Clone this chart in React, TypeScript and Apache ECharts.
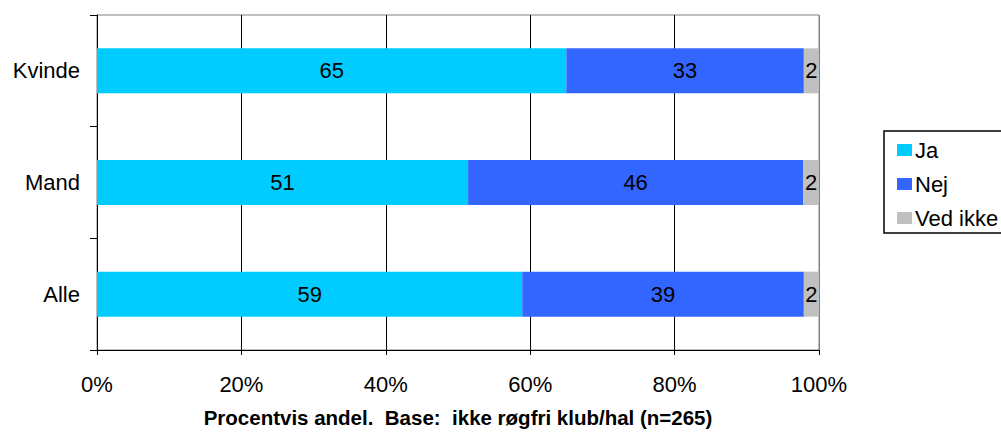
import React, { useEffect, useRef } from "react";
import * as echarts from "echarts";

const categories = ["Alle", "Mand", "Kvinde"];
const jaValues = [58.9, 51.4, 65.0];
const nejValues = [39.0, 46.4, 32.9];
const vedIkkeValues = [2.1, 2.2, 2.1];
const seriesNames = ["Ja", "Nej", "Ved ikke"];
const xTicks = [0, 20, 40, 60, 80, 100];
const axisTitle = "Procentvis andel.  Base:  ikke røgfri klub/hal (n=265)";

const FONT = 'Arial, "Liberation Sans", sans-serif';
const FS = 22;

export default function App() {
  const ref = useRef<HTMLDivElement>(null);
  useEffect(() => {
    if (!ref.current) return;
    const chart = echarts.init(ref.current, null, { renderer: "svg" });
    const label = {
      show: true,
      position: "inside",
      color: "#000",
      fontSize: FS,
      fontFamily: FONT,
      formatter: (p: any) => String(Math.round(p.value)),
    };
    const colors = ["#00CCFF", "#3366FF", "#C0C0C0"];
    const values = [jaValues, nejValues, vedIkkeValues];
    chart.setOption({
      animation: false,
      grid: {
        left: 97,
        right: 182,
        top: 15,
        bottom: 82,
        containLabel: false,
        outerBoundsMode: "none",
        show: true,
        borderColor: "#808080",
        borderWidth: 1,
      },
      legend: {
        orient: "vertical",
        left: 892,
        top: 134,
        itemWidth: 15,
        itemHeight: 12,
        itemGap: 12,
        icon: "rect",
        textStyle: { fontSize: FS, fontFamily: FONT, color: "#000", lineHeight: 22, padding: [0, 0, 0, -2] },
        data: seriesNames,
      },
      graphic: [
        {
          type: "rect",
          shape: { x: 884, y: 131, width: 130, height: 102 },
          style: { fill: "none", stroke: "#000", lineWidth: 1.5 },
          z: -1,
        },
      ],
      xAxis: {
        type: "value",
        min: xTicks[0],
        max: xTicks[xTicks.length - 1],
        interval: 20,
        axisLine: { show: true, lineStyle: { color: "#000", width: 1 } },
        axisTick: { show: true, length: 5, lineStyle: { color: "#000" } },
        axisLabel: {
          formatter: "{value}%",
          fontSize: FS,
          fontFamily: FONT,
          color: "#000",
          margin: 23,
        },
        splitLine: {
          show: true,
          lineStyle: {
            color: ["#000", "#000", "#000", "#000", "#000", "#808080"],
            width: 1,
          },
        },
        name: axisTitle,
        nameLocation: "middle",
        nameGap: 57,
        nameTextStyle: { fontSize: 20.5, fontWeight: "bold", fontFamily: FONT, color: "#000" },
      },
      yAxis: {
        type: "category",
        data: categories,
        axisLine: { show: true, lineStyle: { color: "#000", width: 1 } },
        axisTick: { show: true, length: 7, alignWithLabel: false, lineStyle: { color: "#000" } },
        axisLabel: { fontSize: FS, fontFamily: FONT, color: "#000", margin: 17 },
        splitLine: { show: false },
      },
      series: seriesNames.map((name, i) => ({
        name,
        type: "bar",
        stack: "total",
        barWidth: 45,
        itemStyle: { color: colors[i] },
        label,
        data: values[i],
      })),
    });
    return () => chart.dispose();
  }, []);
  return (
    <div
      ref={ref}
      style={{ position: "fixed", left: 0, top: 0, width: 1001, height: 432, background: "#fff" }}
    />
  );
}
